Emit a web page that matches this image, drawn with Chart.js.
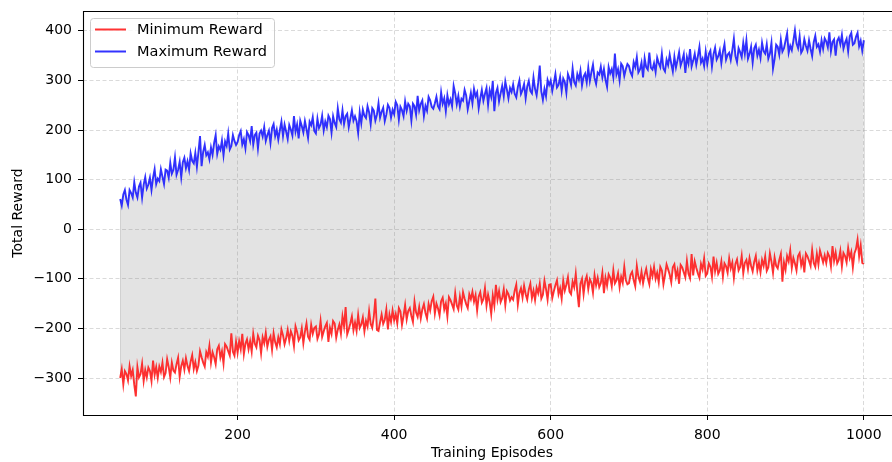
<!DOCTYPE html>
<html>
<head>
<meta charset="utf-8">
<script src="https://cdn.jsdelivr.net/npm/chart.js@4.4.1/dist/chart.umd.min.js"></script>
<style>
  html, body { margin: 0; padding: 0; background: #fff; overflow: hidden; }
  #wrap { width: 940px; height: 462px; }
</style>
</head>
<body>
<div id="wrap"><canvas id="rewardCanvas" width="940" height="462"></canvas></div>
<script>
// episodes 50..1000, every 2nd episode
const firstEpisode = 50;
const episodeStep = 2;

const minReward = [
  -300, -282, -313, -286, -292, -305, -276, -296, -284, -314, -337, -278, -299, -292, -271, -306, -284, -299, -279, -286, -306, -265, -294, -278, -300,
  -277, -288, -269, -298, -290, -262, -278, -299, -269, -285, -289, -272, -259, -298, -276, -265, -283, -260, -276, -286, -267, -254, -282, -268, -286,
  -275, -246, -258, -269, -277, -248, -257, -235, -269, -248, -258, -272, -242, -235, -259, -246, -271, -232, -237, -246, -255, -210, -247, -255, -227,
  -249, -226, -242, -211, -252, -231, -222, -242, -226, -247, -211, -231, -238, -215, -224, -250, -218, -230, -209, -237, -223, -216, -243, -210, -228,
  -238, -218, -232, -202, -214, -232, -220, -203, -225, -206, -215, -236, -196, -207, -224, -218, -200, -230, -207, -190, -217, -223, -193, -211, -199,
  -196, -221, -212, -185, -217, -206, -196, -189, -227, -199, -211, -185, -190, -219, -203, -192, -211, -176, -196, -157, -212, -202, -190, -176, -204,
  -188, -205, -173, -199, -192, -178, -206, -185, -196, -165, -191, -199, -177, -140, -203, -205, -188, -172, -191, -183, -162, -202, -172, -187, -164,
  -184, -171, -190, -159, -166, -193, -175, -153, -182, -165, -159, -175, -187, -146, -168, -177, -157, -180, -162, -151, -169, -180, -151, -164, -145,
  -136, -170, -150, -160, -174, -145, -138, -162, -150, -176, -137, -143, -152, -161, -129, -154, -162, -136, -156, -127, -140, -151, -159, -131, -141,
  -126, -146, -133, -164, -136, -127, -148, -141, -119, -154, -132, -147, -171, -134, -154, -112, -142, -125, -147, -139, -121, -153, -125, -131, -144,
  -137, -142, -124, -112, -152, -129, -119, -138, -114, -131, -142, -122, -110, -139, -124, -143, -118, -129, -110, -140, -132, -104, -121, -142, -112,
  -111, -139, -125, -113, -103, -131, -119, -140, -104, -124, -112, -97, -126, -131, -106, -117, -90, -127, -157, -110, -100, -131, -105, -95, -121,
  -101, -108, -128, -93, -113, -98, -117, -109, -88, -129, -98, -114, -91, -98, -115, -83, -109, -103, -89, -117, -96, -108, -76, -103, -111,
  -109, -92, -86, -103, -115, -74, -96, -106, -86, -109, -92, -80, -99, -111, -81, -95, -76, -100, -88, -107, -76, -83, -111, -93, -71,
  -81, -92, -107, -77, -71, -96, -83, -110, -72, -77, -87, -97, -64, -90, -99, -50, -93, -65, -78, -89, -98, -70, -81, -59, -94,
  -89, -69, -76, -96, -55, -85, -68, -90, -83, -65, -96, -69, -75, -88, -59, -79, -67, -98, -70, -61, -83, -76, -54, -89, -68,
  -62, -81, -58, -74, -85, -66, -54, -83, -68, -87, -62, -74, -55, -84, -77, -49, -66, -88, -57, -74, -79, -62, -50, -106, -67,
  -82, -54, -65, -43, -78, -58, -69, -83, -54, -48, -73, -60, -87, -49, -55, -64, -74, -42, -68, -76, -50, -71, -43, -55, -67,
  -53, -68, -48, -55, -75, -34, -64, -47, -69, -62, -44, -75, -48, -54, -67, -38, -58, -46, -77, -49, -40, -21, -55, -33, -68,
  -70
];

const maxReward = [
  61, 48, 70, 79, 60, 49, 79, 73, 64, 95, 74, 64, 86, 94, 64, 90, 105, 82, 90, 104, 79, 104, 121, 91, 102,
  97, 121, 106, 91, 120, 118, 104, 134, 112, 120, 145, 110, 120, 136, 105, 135, 144, 123, 137, 120, 153, 138, 133, 154, 126,
  156, 188, 127, 156, 170, 149, 155, 141, 165, 150, 174, 190, 152, 167, 160, 179, 149, 177, 168, 193, 161, 168, 190, 178, 170,
  176, 190, 198, 171, 182, 163, 196, 190, 178, 208, 171, 190, 195, 163, 193, 199, 187, 206, 178, 190, 199, 174, 204, 212, 188,
  201, 181, 200, 217, 188, 211, 197, 182, 210, 201, 189, 228, 197, 211, 183, 219, 208, 195, 218, 202, 184, 217, 210, 226, 198,
  193, 223, 204, 211, 229, 199, 217, 206, 229, 222, 195, 228, 214, 206, 244, 222, 215, 240, 212, 228, 233, 206, 223, 240, 219,
  228, 218, 194, 236, 214, 241, 229, 224, 248, 236, 212, 244, 239, 219, 231, 254, 225, 237, 245, 218, 231, 251, 245, 225, 241,
  232, 257, 250, 221, 247, 240, 228, 258, 239, 253, 248, 219, 253, 248, 231, 269, 240, 253, 260, 228, 249, 239, 267, 260, 247,
  243, 254, 267, 248, 242, 276, 253, 264, 238, 270, 252, 262, 248, 289, 274, 252, 269, 247, 263, 259, 281, 270, 242, 258, 275,
  254, 283, 268, 276, 244, 264, 281, 259, 273, 285, 251, 280, 267, 299, 238, 275, 285, 258, 274, 289, 268, 298, 282, 264, 285,
  277, 292, 273, 266, 287, 300, 273, 281, 293, 264, 288, 299, 279, 274, 306, 283, 270, 295, 330, 278, 261, 283, 268, 301, 291,
  300, 279, 295, 313, 286, 291, 307, 279, 304, 297, 275, 313, 304, 291, 324, 297, 290, 313, 302, 320, 290, 308, 314, 296, 326,
  299, 317, 332, 305, 293, 316, 312, 328, 306, 323, 301, 287, 327, 314, 323, 306, 354, 312, 323, 300, 334, 329, 309, 323, 333,
  329, 316, 309, 337, 327, 347, 316, 322, 336, 306, 345, 327, 322, 356, 326, 322, 335, 317, 346, 335, 327, 354, 324, 318, 342,
  331, 352, 334, 318, 348, 326, 341, 357, 330, 340, 353, 315, 347, 334, 363, 328, 340, 354, 332, 349, 368, 336, 344, 329, 358,
  333, 353, 360, 328, 353, 366, 342, 349, 361, 335, 358, 373, 342, 352, 356, 341, 361, 384, 349, 337, 365, 357, 347, 376, 354,
  381, 344, 354, 368, 336, 365, 372, 350, 362, 345, 376, 359, 354, 373, 344, 354, 376, 324, 343, 372, 368, 352, 382, 358, 365,
  380, 395, 356, 370, 361, 380, 401, 375, 365, 389, 356, 362, 383, 370, 360, 381, 364, 349, 377, 390, 368, 373, 358, 381, 364,
  385, 379, 367, 397, 359, 378, 383, 350, 380, 386, 373, 392, 364, 376, 384, 359, 389, 396, 372, 375, 388, 396, 369, 380, 360,
  381
];

const xTicks = [200, 400, 600, 800, 1000];
const yTicks = [-300, -200, -100, 0, 100, 200, 300, 400];

const episodes = minReward.map((_, i) => firstEpisode + i * episodeStep);
const toPoints = (arr) => arr.map((v, i) => ({ x: episodes[i], y: v }));

const FONT = '"DejaVu Sans", sans-serif';
const gridColor = 'rgba(176,176,176,0.6)';

// outline of the shaded band at both ends + axes spines + legend
const framePlugin = {
  id: 'frame',
  beforeDatasetsDraw(chart) {
    const { ctx } = chart;
    const xs = chart.scales.x, ys = chart.scales.y;
    const last = episodes.length - 1;
    ctx.save();
    ctx.strokeStyle = 'rgba(128,128,128,0.25)';
    ctx.lineWidth = 1;
    [0, last].forEach(i => {
      const px = Math.round(xs.getPixelForValue(episodes[i])) + 0.5;
      ctx.beginPath();
      ctx.moveTo(px, ys.getPixelForValue(minReward[i]));
      ctx.lineTo(px, ys.getPixelForValue(maxReward[i]));
      ctx.stroke();
    });
    ctx.restore();
  },
  afterDraw(chart) {
    const { ctx, chartArea: a } = chart;
    ctx.save();
    ctx.strokeStyle = '#000';
    ctx.lineWidth = 1.1;
    ctx.beginPath();
    ctx.moveTo(a.right, a.top + 0.5);
    ctx.lineTo(a.left + 0.5, a.top + 0.5);
    ctx.lineTo(a.left + 0.5, a.bottom + 0.5);
    ctx.lineTo(a.right, a.bottom + 0.5);
    ctx.stroke();

    const x = a.left + 7, y = a.top + 7, w = 184, h = 49;
    ctx.fillStyle = 'rgba(255,255,255,0.8)';
    ctx.strokeStyle = '#cccccc';
    ctx.lineWidth = 1;
    ctx.beginPath();
    ctx.roundRect(x + 0.5, y + 0.5, w, h, 3);
    ctx.fill();
    ctx.stroke();
    ctx.font = '14.5px ' + FONT;
    ctx.textBaseline = 'middle';
    chart.data.datasets.forEach((ds, i) => {
      const ly = y + 11.5 + i * 22;
      ctx.strokeStyle = ds.borderColor;
      ctx.lineWidth = 2;
      ctx.beginPath();
      ctx.moveTo(x + 5, ly);
      ctx.lineTo(x + 36, ly);
      ctx.stroke();
      ctx.fillStyle = '#000';
      ctx.fillText(ds.label, x + 47, ly + 1);
    });
    ctx.restore();
  }
};

const fmt = (v) => String(v).replace('-', '\u2212');
const noPad = (s) => { s.paddingTop = 0; s.paddingBottom = 0; s.paddingLeft = 0; s.paddingRight = 0; };

new Chart(document.getElementById('rewardCanvas'), {
  type: 'line',
  data: {
    datasets: [
      {
        label: 'Minimum Reward',
        data: toPoints(minReward),
        borderColor: 'rgba(255,0,0,0.8)',
        borderWidth: 1.9,
        pointRadius: 0,
        fill: false,
      },
      {
        label: 'Maximum Reward',
        data: toPoints(maxReward),
        borderColor: 'rgba(0,0,255,0.8)',
        backgroundColor: 'rgba(128,128,128,0.22)',
        borderWidth: 1.9,
        pointRadius: 0,
        fill: { target: 0 },
      },
    ],
  },
  options: {
    responsive: false,
    devicePixelRatio: 1,
    animation: false,
    layout: { padding: { top: 11, right: 39, left: 0, bottom: 0 } },
    plugins: {
      legend: { display: false },
      tooltip: { enabled: false },
      filler: { drawTime: 'beforeDatasetsDraw' },
    },
    scales: {
      x: {
        type: 'linear',
        min: 2.5,
        max: 1047.5,
        afterBuildTicks: (s) => { s.ticks = xTicks.map(v => ({ value: v })); },
        afterFit: (s) => { s.height = 47; noPad(s); },
        grid: { color: gridColor, lineWidth: 0.8, tickColor: '#000', tickLength: 5, tickWidth: 1 },
        border: { display: false, dash: [4, 2.5] },
        ticks: { color: '#000', font: { family: FONT, size: 14 }, padding: 7, maxRotation: 0, callback: fmt },
        title: { display: true, text: 'Training Episodes', color: '#000', font: { family: FONT, size: 14 }, padding: { top: 0, bottom: 0 } },
      },
      y: {
        type: 'linear',
        min: -374.6,
        max: 440,
        afterBuildTicks: (s) => { s.ticks = yTicks.map(v => ({ value: v })); },
        afterFit: (s) => { s.width = 83; noPad(s); },
        grid: { color: gridColor, lineWidth: 0.8, tickColor: '#000', tickLength: 5, tickWidth: 1 },
        border: { display: false, dash: [4, 2.5] },
        ticks: { color: '#000', font: { family: FONT, size: 14 }, padding: 6, callback: fmt },
        title: { display: true, text: 'Total Reward', color: '#000', font: { family: FONT, size: 14 }, padding: { top: 10, bottom: 0 } },
      },
    },
  },
  plugins: [framePlugin],
});
</script>
</body>
</html>
